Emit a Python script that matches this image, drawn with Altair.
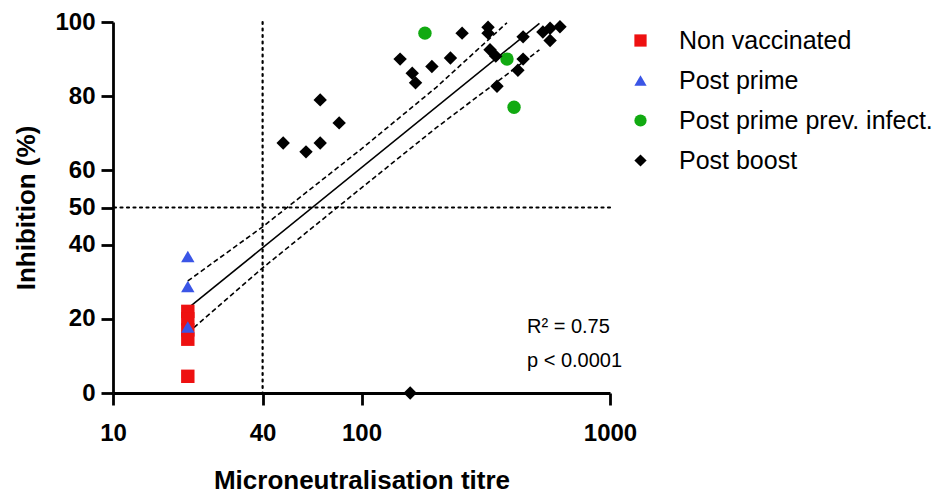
import altair as alt
import pandas as pd

# ---- data ----
nv_x = [20, 20, 20, 20, 20]
nv_y = [22, 20, 17, 14.5, 4.5]

pp_x = [20, 20, 20]
pp_y = [36.8, 28.7, 17.8]

ppi_x = [180, 385, 411]
ppi_y = [97, 90, 77]

pb_x = [48.4, 59.8, 68.2, 68.2, 81.3, 143, 160, 165, 192, 228, 254,
        323, 323, 329, 347, 351, 426, 447, 447, 537, 574, 629, 574, 157]
pb_y = [67.4, 65, 79, 67.4, 72.8, 90, 86.2, 83.6, 88, 90.3, 97,
        98.6, 97, 92.5, 90.8, 82.7, 87, 96, 90, 97.3, 98.3, 98.7, 95, 0]

groups = ["Non vaccinated", "Post prime", "Post prime prev. infect.", "Post boost"]
colors = ["#ee1111", "#3a55e6", "#11aa11", "#000000"]
shapes = ["square", "triangle-up", "circle", "diamond"]

fit_x = [20, 520]
fit_y = [22.8, 99.6]
upper_x = [20, 40, 100, 200, 385]
upper_y = [30.2, 44.8, 65.8, 82.4, 99.8]
lower_x = [20, 40, 100, 200, 520]
lower_y = [16.2, 33.7, 55.3, 71.5, 92.5]

x_ticks = [10, 40, 100, 1000]
y_ticks = [0, 20, 40, 50, 60, 80, 100]
ref_x = [40]
ref_y = [50]

stat_r2 = "R\u00b2 = 0.75"
stat_p = "p < 0.0001"

# ---- build tables ----
rows = []
for k, (g, xs, ys) in enumerate(zip(groups, [nv_x, pp_x, ppi_x, pb_x], [nv_y, pp_y, ppi_y, pb_y])):
    for xv, yv in zip(xs, ys):
        rows.append({"group": g, "titre": xv, "inhib": yv, "ord": k})
pts = pd.DataFrame(rows)

fit_df = pd.DataFrame({"titre": fit_x, "inhib": fit_y})
up_df = pd.DataFrame({"titre": upper_x, "inhib": upper_y})
lo_df = pd.DataFrame({"titre": lower_x, "inhib": lower_y})

FONT = "Liberation Sans"

xscale = alt.Scale(type="log", domain=[10, 1000], nice=False)
yscale = alt.Scale(domain=[0, 100], nice=False, zero=False)

xaxis = alt.Axis(values=x_ticks, format="d", title="Microneutralisation titre",
                 titlePadding=22, labelPadding=16, labelFlush=False)
yaxis = alt.Axis(values=y_ticks, title="Inhibition (%)", titlePadding=15, labelPadding=6,
                 labelFlush=False)


def X():
    return alt.X("titre:Q", scale=xscale, axis=xaxis)


def Y():
    return alt.Y("inhib:Q", scale=yscale, axis=yaxis)


dot = dict(color="black", strokeWidth=2.2, strokeDash=[2, 4.5], strokeCap="round")

vref = alt.Chart(pd.DataFrame({"titre": ref_x})).mark_rule(**dot).encode(x=X())
href = alt.Chart(pd.DataFrame({"inhib": ref_y})).mark_rule(**dot).encode(y=Y())

fit = alt.Chart(fit_df).mark_line(color="black", strokeWidth=1.6).encode(x=X(), y=Y())
up = alt.Chart(up_df).mark_line(color="black", strokeWidth=1.6, strokeDash=[5, 3]).encode(x=X(), y=Y())
lo = alt.Chart(lo_df).mark_line(color="black", strokeWidth=1.6, strokeDash=[5, 3]).encode(x=X(), y=Y())

points = alt.Chart(pts).mark_point(filled=True, opacity=1, size=180).encode(
    x=X(),
    y=Y(),
    color=alt.Color("group:N", scale=alt.Scale(domain=groups, range=colors),
                    legend=alt.Legend(title=None, orient="none", legendX=515, legendY=6,
                                      labelFontSize=25, labelFont=FONT, labelColor="black",
                                      labelLimit=0, symbolSize=150, rowPadding=14,
                                      labelOffset=26, symbolStrokeWidth=0, padding=0)),
    shape=alt.Shape("group:N", scale=alt.Scale(domain=groups, range=shapes)),
    order=alt.Order("ord:Q"),
)

txt = dict(align="left", baseline="middle", fontSize=20, font=FONT, color="black")
r2 = alt.Chart(pd.DataFrame({"t": [stat_r2]})).mark_text(**txt).encode(
    text="t:N", x=alt.value(414), y=alt.value(305))
pv = alt.Chart(pd.DataFrame({"t": [stat_p]})).mark_text(**txt).encode(
    text="t:N", x=alt.value(414), y=alt.value(339))

chart = alt.layer(vref, href, up, lo, fit, points, r2, pv).properties(
    width=497, height=371,
    autosize="none",
    padding={"left": 105, "top": 14, "right": 330, "bottom": 100},
).configure_view(stroke=None).configure_axis(
    domainColor="black", domainWidth=2.8, tickColor="black", tickWidth=2.8, tickSize=12,
    grid=False, labelFont=FONT, labelFontSize=24, labelFontWeight="bold", labelColor="black",
    titleFont=FONT, titleFontSize=26, titleFontWeight="bold", titleColor="black",
)

chart.save("out.html", embed_options={"renderer": "svg", "actions": False})
